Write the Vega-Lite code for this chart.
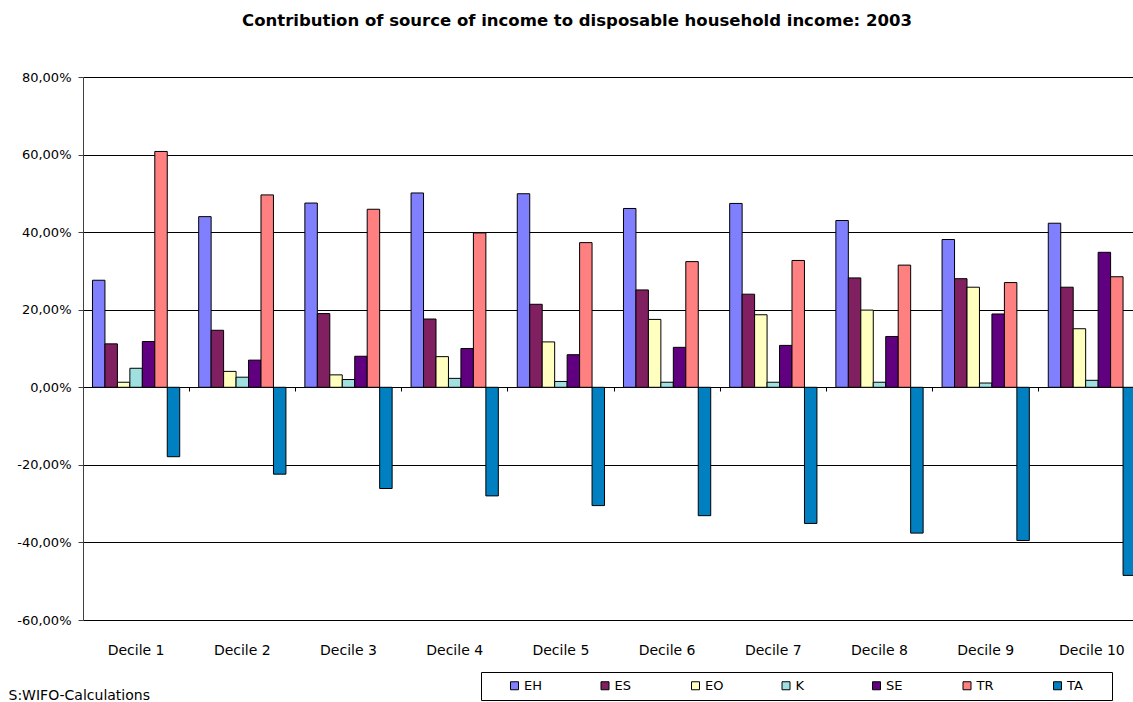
{
  "$schema": "https://vega.github.io/schema/vega-lite/v6.json",
  "width": 1050,
  "height": 543,
  "autosize": {"type": "none"},
  "padding": {"left": 83, "top": 77, "right": 0, "bottom": 82},
  "config": {
    "locale": {"number": {"decimal": ",", "thousands": ".", "grouping": [3], "currency": ["", " €"], "minus": "-"}},
    "font": "DejaVu Sans",
    "view": {"stroke": null},
    "background": "#ffffff"
  },
  "title": {
    "text": "Contribution of source of income to disposable household income: 2003",
    "fontSize": 16.5,
    "fontWeight": "bold",
    "font": "DejaVu Sans",
    "anchor": "middle",
    "frame": "group",
    "dx": -31,
    "offset": 42,
    "color": "#000000"
  },
  "data": {
    "values": [
      {"decile": "Decile 1", "source": "EH", "value": 0.276},
      {"decile": "Decile 1", "source": "ES", "value": 0.112},
      {"decile": "Decile 1", "source": "EO", "value": 0.013},
      {"decile": "Decile 1", "source": "K", "value": 0.049},
      {"decile": "Decile 1", "source": "SE", "value": 0.118},
      {"decile": "Decile 1", "source": "TR", "value": 0.608},
      {"decile": "Decile 1", "source": "TA", "value": -0.179},
      {"decile": "Decile 2", "source": "EH", "value": 0.440},
      {"decile": "Decile 2", "source": "ES", "value": 0.147},
      {"decile": "Decile 2", "source": "EO", "value": 0.041},
      {"decile": "Decile 2", "source": "K", "value": 0.026},
      {"decile": "Decile 2", "source": "SE", "value": 0.070},
      {"decile": "Decile 2", "source": "TR", "value": 0.496},
      {"decile": "Decile 2", "source": "TA", "value": -0.224},
      {"decile": "Decile 3", "source": "EH", "value": 0.475},
      {"decile": "Decile 3", "source": "ES", "value": 0.190},
      {"decile": "Decile 3", "source": "EO", "value": 0.032},
      {"decile": "Decile 3", "source": "K", "value": 0.020},
      {"decile": "Decile 3", "source": "SE", "value": 0.080},
      {"decile": "Decile 3", "source": "TR", "value": 0.459},
      {"decile": "Decile 3", "source": "TA", "value": -0.261},
      {"decile": "Decile 4", "source": "EH", "value": 0.501},
      {"decile": "Decile 4", "source": "ES", "value": 0.176},
      {"decile": "Decile 4", "source": "EO", "value": 0.079},
      {"decile": "Decile 4", "source": "K", "value": 0.023},
      {"decile": "Decile 4", "source": "SE", "value": 0.100},
      {"decile": "Decile 4", "source": "TR", "value": 0.398},
      {"decile": "Decile 4", "source": "TA", "value": -0.280},
      {"decile": "Decile 5", "source": "EH", "value": 0.499},
      {"decile": "Decile 5", "source": "ES", "value": 0.214},
      {"decile": "Decile 5", "source": "EO", "value": 0.117},
      {"decile": "Decile 5", "source": "K", "value": 0.015},
      {"decile": "Decile 5", "source": "SE", "value": 0.084},
      {"decile": "Decile 5", "source": "TR", "value": 0.373},
      {"decile": "Decile 5", "source": "TA", "value": -0.305},
      {"decile": "Decile 6", "source": "EH", "value": 0.461},
      {"decile": "Decile 6", "source": "ES", "value": 0.251},
      {"decile": "Decile 6", "source": "EO", "value": 0.175},
      {"decile": "Decile 6", "source": "K", "value": 0.013},
      {"decile": "Decile 6", "source": "SE", "value": 0.103},
      {"decile": "Decile 6", "source": "TR", "value": 0.324},
      {"decile": "Decile 6", "source": "TA", "value": -0.331},
      {"decile": "Decile 7", "source": "EH", "value": 0.474},
      {"decile": "Decile 7", "source": "ES", "value": 0.240},
      {"decile": "Decile 7", "source": "EO", "value": 0.187},
      {"decile": "Decile 7", "source": "K", "value": 0.013},
      {"decile": "Decile 7", "source": "SE", "value": 0.108},
      {"decile": "Decile 7", "source": "TR", "value": 0.327},
      {"decile": "Decile 7", "source": "TA", "value": -0.351},
      {"decile": "Decile 8", "source": "EH", "value": 0.430},
      {"decile": "Decile 8", "source": "ES", "value": 0.282},
      {"decile": "Decile 8", "source": "EO", "value": 0.199},
      {"decile": "Decile 8", "source": "K", "value": 0.013},
      {"decile": "Decile 8", "source": "SE", "value": 0.131},
      {"decile": "Decile 8", "source": "TR", "value": 0.315},
      {"decile": "Decile 8", "source": "TA", "value": -0.376},
      {"decile": "Decile 9", "source": "EH", "value": 0.381},
      {"decile": "Decile 9", "source": "ES", "value": 0.280},
      {"decile": "Decile 9", "source": "EO", "value": 0.258},
      {"decile": "Decile 9", "source": "K", "value": 0.011},
      {"decile": "Decile 9", "source": "SE", "value": 0.189},
      {"decile": "Decile 9", "source": "TR", "value": 0.270},
      {"decile": "Decile 9", "source": "TA", "value": -0.395},
      {"decile": "Decile 10", "source": "EH", "value": 0.423},
      {"decile": "Decile 10", "source": "ES", "value": 0.258},
      {"decile": "Decile 10", "source": "EO", "value": 0.151},
      {"decile": "Decile 10", "source": "K", "value": 0.018},
      {"decile": "Decile 10", "source": "SE", "value": 0.348},
      {"decile": "Decile 10", "source": "TR", "value": 0.285},
      {"decile": "Decile 10", "source": "TA", "value": -0.485}
    ]
  },
  "layer": [
    {
      "mark": {"type": "bar", "stroke": "#000000", "strokeWidth": 1},
      "encoding": {
        "x": {
          "field": "decile",
          "type": "nominal",
          "sort": null,
          "scale": {"paddingInner": 0, "paddingOuter": 0, "range": [0, 1062]},
          "axis": {
            "title": "S:WIFO-Calculations",
            "titleX": -75,
            "titleY": 79,
            "titleAlign": "left",
            "titleAnchor": "start",
            "titleBaseline": "alphabetic",
            "titleFontWeight": "normal",
            "titleFontSize": 14,
            "titleColor": "#000000",
            "labelAngle": 0,
            "ticks": false,
            "domain": false,
            "grid": false,
            "labelPadding": 23,
            "labelFontSize": 14,
            "labelColor": "#000000"
          }
        },
        "xOffset": {
          "field": "source",
          "type": "nominal",
          "sort": ["EH", "ES", "EO", "K", "SE", "TR", "TA"],
          "scale": {"paddingInner": 0, "paddingOuter": 0.76}
        },
        "y": {
          "field": "value",
          "type": "quantitative",
          "scale": {"domain": [-0.6, 0.8], "nice": false, "zero": false},
          "axis": {
            "format": ".2%",
            "values": [-0.6, -0.4, -0.2, 0, 0.2, 0.4, 0.6, 0.8],
            "title": null,
            "grid": true,
            "gridColor": "#000000",
            "gridOpacity": 1,
            "gridWidth": 1,
            "tickColor": "#404040",
            "tickSize": 5,
            "domainColor": "#404040",
            "labelFontSize": 13,
            "labelColor": "#000000",
            "labelPadding": 7
          }
        },
        "color": {
          "field": "source",
          "type": "nominal",
          "sort": ["EH", "ES", "EO", "K", "SE", "TR", "TA"],
          "scale": {
            "domain": ["EH", "ES", "EO", "K", "SE", "TR", "TA"],
            "range": ["#8080FF", "#802060", "#FFFFC0", "#A0E0E0", "#600080", "#FF8080", "#0080C0"]
          },
          "legend": {
            "orient": "none",
            "legendX": 398,
            "legendY": 595,
            "direction": "horizontal",
            "columns": 7,
            "title": " ",
            "titleOrient": "right",
            "titlePadding": 22,
            "strokeColor": "#000000",
            "fillColor": "#ffffff",
            "padding": 7,
            "symbolType": "square",
            "symbolSize": 64,
            "symbolStrokeColor": "#000000",
            "symbolStrokeWidth": 1,
            "symbolOffset": 20,
            "labelFontSize": 13,
            "labelColor": "#000000",
            "labelOffset": 3,
            "gridAlign": "all",
            "columnPadding": 35.5
          }
        }
      }
    },
    {
      "mark": {"type": "point", "opacity": 0},
      "encoding": {
        "x": {
          "field": "decile",
          "type": "nominal",
          "sort": null,
          "axis": {
            "orient": "bottom",
            "offset": -233,
            "labels": false,
            "title": null,
            "ticks": true,
            "tickSize": 4,
            "tickColor": "#000000",
            "bandPosition": 0,
            "domain": true,
            "domainColor": "#000000",
            "grid": false
          }
        },
        "y": {"datum": 0}
      }
    }
  ],
  "resolve": {"axis": {"x": "independent"}}
}
